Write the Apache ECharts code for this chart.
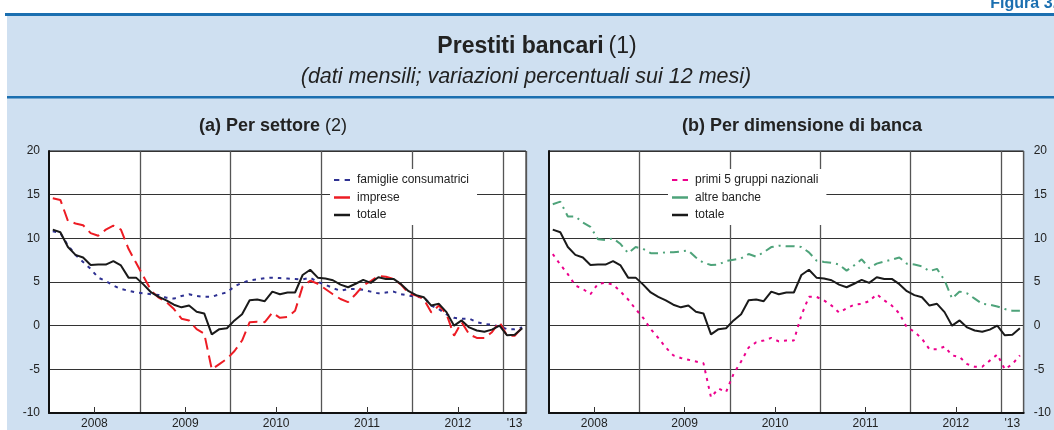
<!DOCTYPE html>
<html>
<head>
<meta charset="utf-8">
<script src="https://cdn.jsdelivr.net/npm/echarts@6/dist/echarts.min.js"></script>
<style>
  html, body { margin: 0; padding: 0; background: #fff; }
  #main { width: 1054px; height: 430px; }
</style>
</head>
<body>
<div id="main"></div>
<script>
// months Jan 2008 .. Mar 2013
var months = [];
[2008, 2009, 2010, 2011, 2012].forEach(function (y) {
  for (var m = 1; m <= 12; m++) months.push(y + '-' + m);
});
months.push('2013-1', '2013-2', '2013-3');

var yearLabels = ['2008', '2009', '2010', '2011', '2012', "'13"];
var yTicks = { min: -10, max: 20, step: 5 };

// (a) per settore
var famiglie = [10.8, 10.6, 9.2, 8.1, 7.3, 6.5, 5.5, 5.1, 4.6, 4.2, 4.0, 3.8,
  3.7, 3.6, 3.5, 3.2, 3.1, 3.4, 3.6, 3.4, 3.3, 3.3, 3.6, 3.8,
  4.5, 4.9, 5.2, 5.3, 5.45, 5.5, 5.45, 5.4, 5.35, 5.3, 5.5, 5.0,
  4.7, 4.3, 4.0, 4.2, 4.2, 4.1, 3.9, 3.7, 3.8, 3.9, 3.6, 3.45,
  3.3, 3.25, 2.3, 1.9, 1.3, 0.9, 0.8, 0.8, 0.4, 0.2, 0.1, -0.1,
  -0.4, -0.4, -0.2];
var imprese = [14.6, 14.4, 12.0, 11.7, 11.5, 10.6, 10.3, 11.0, 11.45, 11.0, 8.8, 7.2,
  5.6, 4.0, 3.2, 2.7, 1.9, 0.8, 0.6, -0.4, -0.9, -5.0, -4.4, -3.8,
  -2.9, -1.7, 0.4, 0.45, 0.4, 1.5, 0.9, 1.0, 1.7, 4.5, 5.15, 4.8,
  4.2, 3.6, 3.05, 2.7, 3.6, 4.6, 5.1, 5.7, 5.6, 5.35, 4.7, 3.7,
  3.45, 3.05, 1.5, 2.3, 1.35, -1.15, 0.4, -1.0, -1.4, -1.4, -0.75, 0.4,
  -1.15, -1.15, -0.2];
var totale = [11.0, 10.7, 9.0, 8.1, 7.8, 6.95, 7.0, 7.0, 7.4, 6.9, 5.5, 5.5,
  4.7, 3.8, 3.3, 2.9, 2.4, 2.1, 2.3, 1.6, 1.4, -1.0, -0.4, -0.3,
  0.6, 1.3, 2.9, 3.0, 2.8, 3.9, 3.6, 3.8, 3.8, 5.8, 6.4, 5.5,
  5.4, 5.2, 4.7, 4.4, 4.8, 5.25, 4.9, 5.55, 5.35, 5.35, 4.75, 3.95,
  3.5, 3.25, 2.3, 2.5, 1.55, 0.0, 0.6, -0.2, -0.55, -0.7, -0.45, 0.0,
  -1.1, -1.05, -0.3];

// (b) per dimensione di banca
var primi5 = [8.2, 7.0, 5.9, 4.6, 4.2, 3.6, 4.8, 4.9, 4.7, 3.9, 3.0, 1.9,
  0.9, -0.4, -1.4, -2.5, -3.4, -3.7, -3.9, -4.1, -4.3, -8.2, -7.2, -7.6,
  -5.5, -4.1, -2.5, -1.9, -1.7, -1.4, -1.8, -1.7, -1.7, 1.2, 3.3, 3.3,
  2.9, 2.3, 1.5, 2.0, 2.4, 2.5, 2.8, 3.6, 2.9, 2.3, 1.4, -0.2,
  -0.7, -1.5, -2.7, -2.7, -2.4, -3.4, -3.6, -4.4, -4.7, -4.7, -4.0, -3.3,
  -5.0, -4.4, -3.4];
var altre = [13.9, 14.2, 12.5, 12.5, 11.8, 11.3, 9.9, 9.8, 10.0, 9.35, 8.3, 9.0,
  8.8, 8.3, 8.3, 8.4, 8.4, 8.5, 8.6, 7.8, 7.2, 6.95, 7.0, 7.4,
  7.55, 7.7, 8.2, 7.9, 8.4, 9.0, 9.15, 9.1, 9.1, 9.0, 8.4, 7.45,
  7.3, 7.2, 7.0, 6.3, 6.9, 7.6, 6.6, 7.1, 7.35, 7.55, 7.8, 7.1,
  7.0, 6.8, 6.25, 6.5, 5.2, 3.1, 3.9, 3.7, 3.1, 2.5, 2.4, 2.2,
  1.9, 1.7, 1.7];

// half-month slots for the year labels (centred on each year)
var labelSlots = [];
for (var k = 0; k <= months.length * 2; k++) labelSlots.push('');
yearLabels.forEach(function (lab, j) {
  var start = j * 24;
  var end = Math.min((j + 1) * 24, months.length * 2);
  labelSlots[(start + end) / 2] = lab;
});

var FONT = "'Liberation Sans', Arial, sans-serif";
var BG = '#cfe0f1';
var BLUE = '#1b6fb0';
var ICON_SOLID = 'rect';
var ICON_DASH = 'path://M0,0h5v2h-5zM10,0h5v2h-5z';

function dataAxis(gi) {
  return {
    gridIndex: gi, type: 'category', data: months, boundaryGap: true,
    axisLine: { onZero: false, lineStyle: { color: '#111', width: 2 } },
    axisTick: { inside: true, length: 3, interval: 0, lineStyle: { color: '#333' } },
    axisLabel: { show: false },
    splitLine: {
      show: true,
      interval: function (i) { return i > 0 && i % 12 === 0; },
      lineStyle: { color: '#555', width: 1.3 }
    }
  };
}
function labelAxis(gi) {
  return {
    gridIndex: gi, type: 'category', data: labelSlots, boundaryGap: false,
    position: 'bottom',
    axisLine: { show: false, onZero: false },
    axisTick: {
      show: true, inside: true, length: 6,
      interval: function (i) { return i % 24 === 12; },
      lineStyle: { color: '#333' }
    },
    axisLabel: {
      interval: function (i, v) { return v !== ''; },
      color: '#222', fontSize: 12, margin: 5, fontFamily: FONT
    },
    splitLine: { show: false }
  };
}
function valAxis(gi, showLabel, pos, showLine) {
  return {
    gridIndex: gi, type: 'value', position: pos,
    min: yTicks.min, max: yTicks.max, interval: yTicks.step,
    axisLine: { show: showLine, onZero: false, lineStyle: { color: '#111', width: 2 } },
    axisTick: { show: false },
    axisLabel: { show: showLabel, color: '#222', fontSize: 12, margin: pos === 'right' ? 10 : 9, fontFamily: FONT },
    splitLine: { show: showLine, lineStyle: { color: '#333', width: 1 } }
  };
}
function line(name, data, color, dash, xi, yi, z) {
  return {
    name: name, type: 'line', data: data, xAxisIndex: xi, yAxisIndex: yi,
    symbol: 'none', z: z, animation: false,
    lineStyle: { color: color, width: 2, type: dash, cap: 'butt' },
    itemStyle: { color: color }
  };
}
function legend(items, left) {
  return {
    data: items.map(function (it) { return { name: it[0], icon: it[1] }; }),
    orient: 'vertical', left: left, top: 169,
    backgroundColor: '#fff', borderWidth: 0,
    padding: [5, 8, 4, 4], itemWidth: 16, itemHeight: 2.5, itemGap: 5.5,
    selectedMode: false,
    textStyle: { fontSize: 12, color: '#222', fontFamily: FONT, lineHeight: 12, padding: [0, 0, 0, 2] }
  };
}

var chart = echarts.init(document.getElementById('main'), null, { renderer: 'canvas' });
chart.setOption({
  backgroundColor: '#fff',
  animation: false,
  textStyle: { fontFamily: FONT },
  graphic: [
    { type: 'rect', z: -100, shape: { x: 7, y: 15, width: 1047, height: 415 }, style: { fill: BG } },
    { type: 'rect', z: -99, shape: { x: 5, y: 13, width: 1049, height: 3 }, style: { fill: BLUE } },
    { type: 'rect', z: -99, shape: { x: 7, y: 96, width: 1047, height: 2.5 }, style: { fill: BLUE } },
    { type: 'text', z: -99, style: { text: 'Figura 3.', x: 1057, y: 12, align: 'right', verticalAlign: 'bottom',
      fill: BLUE, font: 'bold 16px ' + FONT } }
  ],
  title: [
    {
      text: '{b|Prestiti bancari} {n|(1)}', left: 537, textAlign: 'center', top: 35, padding: 0,
      textStyle: { rich: {
        b: { fontSize: 23, fontWeight: 'bold', color: '#222', fontFamily: FONT },
        n: { fontSize: 23, fontWeight: 'normal', color: '#222', fontFamily: FONT } } }
    },
    {
      text: '(dati mensili; variazioni percentuali sui 12 mesi)', left: 526, textAlign: 'center', top: 66, padding: 0,
      textStyle: { fontSize: 21.5, fontStyle: 'italic', fontWeight: 'normal', color: '#222', fontFamily: FONT }
    },
    {
      text: '{b|(a) Per settore} {n|(2)}', left: 273, textAlign: 'center', top: 117, padding: 0,
      textStyle: { rich: {
        b: { fontSize: 18, fontWeight: 'bold', color: '#222', fontFamily: FONT },
        n: { fontSize: 18, fontWeight: 'normal', color: '#222', fontFamily: FONT } } }
    },
    {
      text: '(b) Per dimensione di banca', left: 802, textAlign: 'center', top: 117, padding: 0,
      textStyle: { fontSize: 18, fontWeight: 'bold', color: '#222', fontFamily: FONT }
    }
  ],
  legend: [
    legend([['famiglie consumatrici', ICON_DASH], ['imprese', ICON_SOLID], ['totale', ICON_SOLID]], 330),
    legend([['primi 5 gruppi nazionali', ICON_DASH], ['altre banche', ICON_SOLID], ['totale', ICON_SOLID]], 668)
  ],
  grid: [
    { left: 49, top: 151, width: 477, height: 262, show: true, backgroundColor: '#fff', borderColor: '#111', borderWidth: 1 },
    { left: 549, top: 151, width: 477, height: 262, show: true, backgroundColor: '#fff', borderColor: '#111', borderWidth: 1 }
  ],
  xAxis: [dataAxis(0), labelAxis(0), dataAxis(1), labelAxis(1)],
  yAxis: [
    valAxis(0, true, 'left', true),
    valAxis(1, false, 'left', true),
    valAxis(1, true, 'right', false)
  ],
  series: [
    line('famiglie consumatrici', famiglie, '#2e3192', [3.5, 5], 0, 0, 3),
    line('imprese', imprese, '#ed1c24', [12, 6], 0, 0, 4),
    line('totale', totale, '#1a1a1a', 'solid', 0, 0, 5),
    line('primi 5 gruppi nazionali', primi5, '#ec008c', [3, 5], 2, 1, 3),
    line('altre banche', altre, '#4ea37a', [9, 5, 2, 5], 2, 1, 4),
    line('totale', totale, '#1a1a1a', 'solid', 2, 1, 5)
  ]
});
</script>
</body>
</html>
